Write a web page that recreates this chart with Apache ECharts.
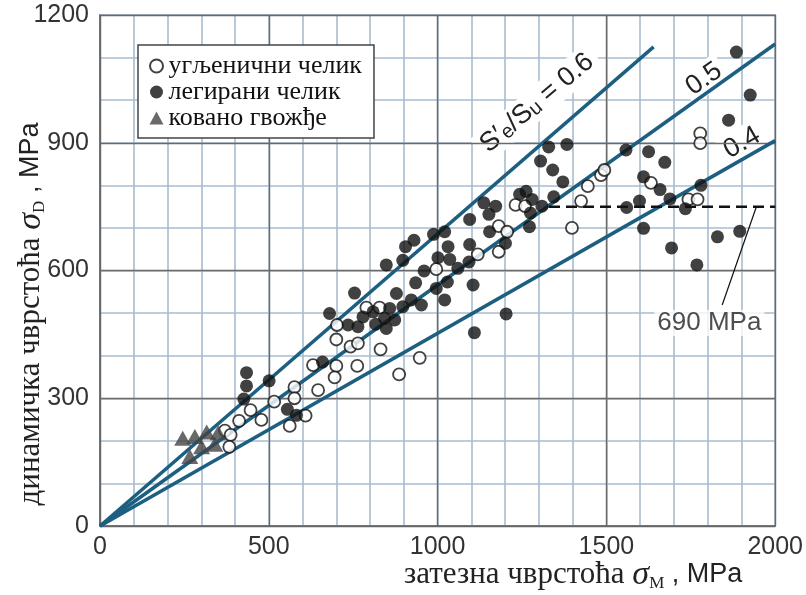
<!DOCTYPE html>
<html><head><meta charset="utf-8">
<script src="https://cdn.jsdelivr.net/npm/echarts@6/dist/echarts.min.js"></script>
<style>html,body{margin:0;padding:0;background:#fff}#c{width:806px;height:595px}</style>
</head><body><div id="c"></div>
<script>
// ---- data (MPa) ----
const carbonSteel = [[370,224],[387,214],[383,186],[412,247],[446,272],[478,249],[516,292],[576,326],[576,300],[562,235],[609,259],[646,319],[631,378],[700,376],[695,349],[700,438],[702,472],[742,421],[764,429],[762,376],[831,415],[789,513],[828,513],[886,356],[947,395],[996,603],[1119,638],[1181,704],[1206,691],[1181,644],[1231,754],[1259,751],[1398,700],[1425,763],[1445,798],[1484,824],[1494,836],[1632,806],[1743,767],[1770,767],[1778,922],[1778,899]];
const alloySteel = [[434,360],[434,329],[426,298],[501,341],[555,274],[582,260],[659,385],[680,499],[735,472],[764,468],[779,491],[809,503],[817,474],[843,488],[848,464],[754,547],[848,613],[897,624],[905,656],[930,671],[988,685],[1021,691],[1031,656],[1001,630],[1036,626],[960,599],[1060,605],[935,571],[996,558],[1029,573],[1021,531],[878,546],[922,531],[952,519],[897,515],[858,511],[873,484],[1095,720],[1095,661],[1093,620],[1105,566],[1109,454],[1137,759],[1172,751],[1152,732],[1154,691],[1201,664],[1203,498],[1305,857],[1329,890],[1383,896],[1341,836],[1371,808],[1243,779],[1262,786],[1280,767],[1309,751],[1275,735],[1344,773],[1272,703],[1558,883],[1560,748],[1625,879],[1673,854],[1610,820],[1659,790],[1688,768],[1598,763],[1610,699],[1734,745],[1780,800],[1693,653],[1768,613],[1829,679],[1895,692],[1862,953],[1885,1113],[1926,1012]];
const wroughtIron = [[245,206],[281,210],[316,221],[350,219],[266,163],[301,186],[340,192]];
const line06 = [[0,0],[1640,1125]];
const line05 = [[0,0],[2000,1132]];
const line04 = [[0,0],[2000,905]];
const limit690 = [[1330,750],[2000,750]];
const leader690 = [[1944,749],[1843,519]];
const note690 = [[1805,477]];
const noteText = '690 MPa';
const seriesNames = ['угљенични челик','легирани челик','ковано гвожђе'];
const xTitle = ['затезна чврстоћа ','σ','M',' , MPa'];
const yTitle = ['динамичка чврстоћа ','σ','D',' , MPa'];
const lineLabels = ['0.5','0.4'];

const chart = echarts.init(document.getElementById('c'));
const SANS = 'Liberation Sans, Arial, sans-serif';
const SERIF = 'Liberation Serif, Times New Roman, serif';
const BLUE = '#1d5f80';
const MAJOR = '#6a6a6a', MINOR = '#a9bccf';
const lineStyleRatio = {color: BLUE, width: 3.5};

function titleRich(){
  return {
    a:{fontFamily:SERIF,fontSize:31,fill:'#222'},
    s:{fontFamily:SERIF,fontStyle:'italic',fontSize:34,fill:'#222'},
    m:{fontFamily:SERIF,fontSize:17,fill:'#222',verticalAlign:'bottom'},
    b:{fontFamily:SANS,fontSize:27,fill:'#222'}
  };
}
const labelBg = {fill:'#222', backgroundColor:'#fff', padding:[2,4]};
const hidden = {axisLine:{show:false},axisTick:{show:false},axisLabel:{show:false}};

chart.setOption({
  animation:false,
  backgroundColor:'#fff',
  grid:{left:100,right:30,top:15,bottom:69,show:true,borderColor:'#777',borderWidth:1.5,backgroundColor:'transparent'},
  legend:{
    orient:'vertical',left:138,top:45,
    data:seriesNames,
    backgroundColor:'#fff',borderColor:'#444',borderWidth:1.5,borderRadius:0,
    padding:[8,12,7,11],itemGap:0,itemWidth:14,itemHeight:13,
    textStyle:{fontFamily:SERIF,fontSize:26,color:'#111',lineHeight:24.5},
    z:5
  },
  xAxis:[
    Object.assign({type:'value',position:'bottom',offset:0,min:0,max:2000,interval:100,z:0,
      splitLine:{show:true,lineStyle:{color:MINOR,width:1.6}}},hidden),
    {type:'value',position:'bottom',offset:0,min:0,max:2000,interval:500,z:1,
      axisLine:{show:true,lineStyle:{color:'#666',width:1.5}},
      axisTick:{show:false},
      axisLabel:{fontFamily:SANS,fontSize:25,color:'#333',margin:9,formatter:v=>String(v)},
      splitLine:{show:true,lineStyle:{color:MAJOR,width:1.4}}}
  ],
  yAxis:[
    Object.assign({type:'value',position:'left',offset:0,min:0,max:1200,interval:100,z:0,
      splitLine:{show:true,lineStyle:{color:MINOR,width:1.6}}},hidden),
    {type:'value',position:'left',offset:0,min:0,max:1200,interval:300,z:1,
      axisLine:{show:true,lineStyle:{color:'#666',width:1.5}},
      axisTick:{show:false},
      axisLabel:{fontFamily:SANS,fontSize:25,color:'#333',margin:11,formatter:v=>String(v)},
      splitLine:{show:true,lineStyle:{color:MAJOR,width:1.4}}}
  ],
  graphic:[
    {type:'text',left:404,top:558,z:10,style:{text:'{a|'+xTitle[0]+'}{s|'+xTitle[1]+'}{m|'+xTitle[2]+'}{b|'+xTitle[3]+'}',rich:titleRich()}},
    {type:'text',x:31,y:314,rotation:Math.PI/2,z:10,style:{text:'{a|'+yTitle[0]+'}{s|'+yTitle[1]+'}{m|'+yTitle[2]+'}{b|'+yTitle[3]+'}',rich:titleRich(),align:'center',verticalAlign:'middle'}},
    {type:'text',x:537,y:103,rotation:40*Math.PI/180,z:1,style:{text:'{S|S′}{e|e}{S|/S}{e|u}{S| = 0.6}',align:'center',verticalAlign:'middle',backgroundColor:'#fff',padding:[2,6],rich:{S:{fontFamily:SANS,fontSize:27,fill:'#222'},e:{fontFamily:SANS,fontSize:20,fill:'#222',verticalAlign:'bottom'}}}},
    {type:'text',x:704,y:79,rotation:35*Math.PI/180,z:1,style:Object.assign({text:lineLabels[0],font:'27px '+SANS,align:'center',verticalAlign:'middle'},labelBg)},
    {type:'text',x:742,y:143,rotation:30*Math.PI/180,z:1,style:Object.assign({text:lineLabels[1],font:'27px '+SANS,align:'center',verticalAlign:'middle'},labelBg)}
  ],
  series:[
    {type:'line',xAxisIndex:1,yAxisIndex:1,data:line06,symbol:'none',lineStyle:lineStyleRatio,z:2,silent:true},
    {type:'line',xAxisIndex:1,yAxisIndex:1,data:line05,symbol:'none',lineStyle:lineStyleRatio,z:2,silent:true},
    {type:'line',xAxisIndex:1,yAxisIndex:1,data:line04,symbol:'none',lineStyle:lineStyleRatio,z:2,silent:true},
    {type:'line',xAxisIndex:1,yAxisIndex:1,data:limit690,symbol:'none',lineStyle:{color:'#111',width:2.5,type:[11,6]},z:2},
    {type:'line',xAxisIndex:1,yAxisIndex:1,data:leader690,symbol:'none',lineStyle:{color:'#111',width:1.2},z:2},
    {type:'scatter',xAxisIndex:1,yAxisIndex:1,data:note690,symbolSize:0,z:3,
      label:{show:true,position:'inside',formatter:noteText,fontFamily:SANS,fontSize:26,color:'#222',backgroundColor:'#fff',padding:[0,3]}},
    {name:seriesNames[0],type:'scatter',xAxisIndex:1,yAxisIndex:1,data:carbonSteel,symbol:'circle',symbolSize:12,z:4,
      itemStyle:{color:'#fff',borderColor:'#111',borderWidth:1.8}},
    {name:seriesNames[1],type:'scatter',xAxisIndex:1,yAxisIndex:1,data:alloySteel,symbol:'circle',symbolSize:13,z:4,
      itemStyle:{color:'#111',borderColor:'#111',borderWidth:0}},
    {name:seriesNames[2],type:'scatter',xAxisIndex:1,yAxisIndex:1,data:wroughtIron,symbol:'triangle',symbolSize:[17,15],z:4,
      itemStyle:{color:'#444'}}
  ]
});
</script></body></html>
